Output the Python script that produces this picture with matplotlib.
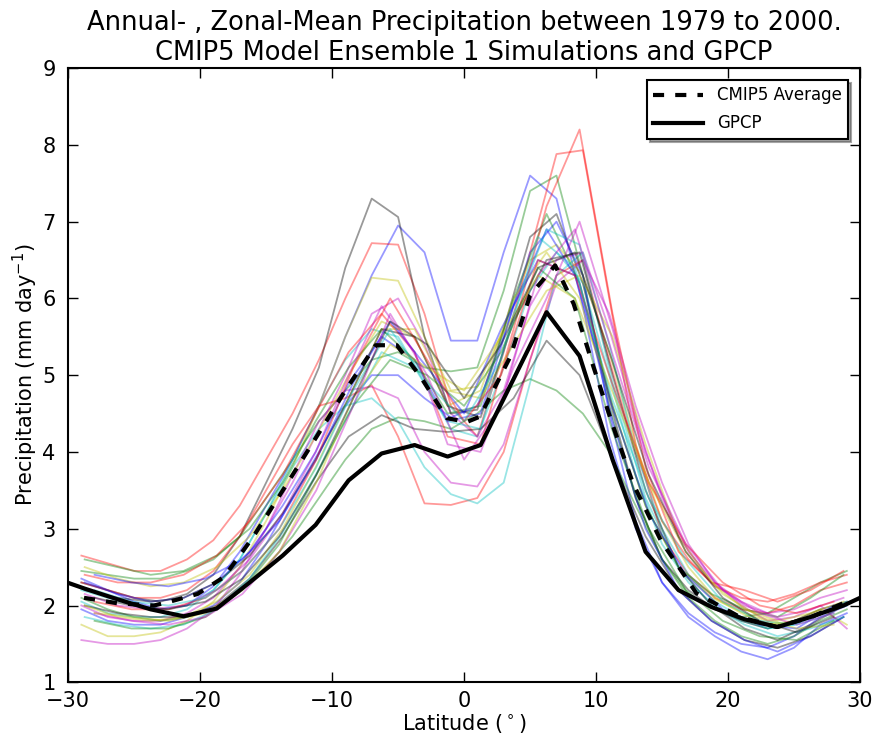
import numpy as np
import matplotlib
matplotlib.use("Agg")
from matplotlib import pyplot as plt

plt.rcParams['lines.scale_dashes'] = False

# latitude grids of the model output
lat2 = np.arange(-29, 30, 2.0)          # 2.0 deg models
lat25 = np.arange(-28.75, 29, 2.5)      # 2.5 deg models
lat28 = [-28.0, -25.2, -22.4, -19.6, -16.8, -14.0, -11.2, -8.4, -5.6, -2.8, 0.0,
         2.8, 5.6, 8.4, 11.2, 14.0, 16.8, 19.6, 22.4, 25.2, 28.0]

m01 = [2.35, 2.2, 2.05, 1.95, 2.0, 2.25, 2.7, 3.3, 3.9, 4.6, 5.5, 6.3, 6.95, 6.6, 5.45, 5.45, 6.6, 7.6, 7.3, 5.9, 4.2, 3.0, 2.3, 1.9, 1.65, 1.5, 1.45, 1.6, 1.85, 2.0]
m02 = [2.45, 2.4, 2.35, 2.35, 2.45, 2.6, 2.9, 3.4, 3.9, 4.4, 4.8, 5.2, 5.3, 5.1, 5.05, 5.1, 6.1, 7.4, 7.6, 6.3, 4.6, 3.4, 2.6, 2.15, 1.95, 1.85, 1.9, 2.1, 2.3, 2.45]
m03 = [2.65, 2.55, 2.45, 2.45, 2.6, 2.85, 3.3, 3.9, 4.5, 5.2, 6.0, 6.72, 6.7, 5.8, 4.6, 4.2, 5.3, 6.6, 7.88, 7.93, 6.0, 4.1, 2.9, 2.4, 2.1, 1.95, 1.9, 2.0, 2.2, 2.3]
m04 = [2.2, 2.1, 2.0, 1.95, 2.0, 2.2, 2.6, 3.2, 3.9, 4.6, 5.2, 5.6, 5.5, 4.9, 4.3, 4.2, 5.1, 6.1, 6.6, 6.2, 5.0, 3.7, 2.8, 2.3, 2.0, 1.8, 1.7, 1.75, 1.9, 2.0]
m05 = [2.0, 1.85, 1.8, 1.8, 1.9, 2.1, 2.5, 3.0, 3.6, 4.3, 5.0, 5.8, 6.0, 5.4, 4.5, 4.2, 4.8, 5.9, 6.5, 6.6, 5.6, 4.4, 3.4, 2.7, 2.3, 2.05, 1.9, 1.95, 2.1, 2.2]
m06 = [1.75, 1.6, 1.6, 1.65, 1.8, 2.05, 2.5, 3.1, 3.8, 4.6, 5.5, 6.27, 6.23, 5.5, 4.8, 4.85, 5.6, 6.5, 6.7, 6.3, 5.3, 4.1, 3.1, 2.5, 2.1, 1.9, 1.75, 1.8, 1.95, 1.75]
m07 = [2.3, 2.2, 2.1, 2.05, 2.15, 2.4, 2.9, 3.6, 4.3, 5.1, 6.4, 7.3, 7.06, 5.5, 4.5, 4.55, 5.6, 6.8, 7.1, 6.2, 4.7, 3.4, 2.6, 2.2, 1.95, 1.8, 1.7, 1.8, 1.95, 2.05]
m08 = [1.95, 1.8, 1.75, 1.75, 1.85, 2.0, 2.3, 2.8, 3.4, 4.0, 4.6, 5.0, 5.0, 4.7, 4.45, 4.6, 5.5, 6.6, 7.0, 6.3, 4.5, 3.1, 2.3, 1.85, 1.6, 1.4, 1.3, 1.45, 1.75, 1.9]
m09 = [2.1, 1.95, 1.85, 1.8, 1.85, 1.95, 2.2, 2.5, 2.9, 3.4, 3.9, 4.3, 4.45, 4.4, 4.3, 4.5, 4.8, 4.95, 4.8, 4.5, 4.0, 3.3, 2.6, 2.1, 1.8, 1.6, 1.5, 1.6, 1.8, 1.95]
m10 = [2.3, 2.2, 2.1, 2.1, 2.2, 2.45, 2.9, 3.5, 4.1, 4.6, 4.7, 4.87, 4.2, 3.33, 3.31, 3.4, 4.0, 5.2, 6.3, 6.5, 5.2, 4.0, 3.1, 2.6, 2.25, 2.1, 2.05, 2.15, 2.3, 2.4]
m11 = [2.05, 1.9, 1.85, 1.85, 1.95, 2.2, 2.6, 3.2, 3.8, 4.3, 4.6, 4.7, 4.4, 3.8, 3.45, 3.33, 3.6, 4.9, 6.3, 6.6, 5.4, 4.0, 3.0, 2.4, 2.05, 1.85, 1.7, 1.75, 1.9, 2.05]
m12 = [1.55, 1.5, 1.5, 1.55, 1.7, 1.95, 2.4, 3.0, 3.7, 4.4, 4.8, 4.85, 4.7, 4.0, 3.6, 3.55, 4.1, 5.2, 6.2, 6.5, 5.8, 4.6, 3.6, 2.8, 2.3, 2.0, 1.8, 1.85, 2.0, 1.7]

m13 = [2.5, 2.35, 2.25, 2.3, 2.5, 2.9, 3.5, 4.2, 5.0, 5.7, 5.5, 4.6, 4.8, 6.0, 6.6, 6.0, 4.6, 3.3, 2.5, 2.1, 1.9, 1.75, 1.85, 2.0]
m14 = [2.0, 1.9, 1.85, 1.85, 2.0, 2.35, 2.9, 3.6, 4.2, 4.48, 4.3, 4.26, 4.3, 4.7, 5.45, 5.0, 3.9, 2.9, 2.2, 1.8, 1.55, 1.45, 1.6, 1.85]
m15 = [2.3, 2.15, 2.05, 2.1, 2.3, 2.7, 3.3, 4.0, 4.9, 5.5, 5.2, 4.4, 4.5, 5.9, 6.9, 6.2, 4.4, 3.0, 2.2, 1.8, 1.55, 1.4, 1.6, 1.85]
m16 = [2.6, 2.5, 2.4, 2.45, 2.65, 3.0, 3.6, 4.4, 5.1, 5.6, 5.2, 4.5, 4.6, 6.0, 7.1, 6.2, 4.6, 3.3, 2.5, 2.15, 1.95, 1.85, 2.1, 2.4]
m17 = [2.4, 2.3, 2.3, 2.4, 2.65, 3.1, 3.7, 4.5, 5.3, 5.8, 5.3, 4.2, 4.1, 5.6, 7.2, 8.2, 5.8, 3.8, 2.7, 2.3, 2.2, 2.05, 2.2, 2.45]
m18 = [1.85, 1.75, 1.7, 1.75, 1.95, 2.35, 2.95, 3.7, 4.5, 5.3, 5.1, 4.4, 4.3, 5.8, 6.9, 6.7, 4.9, 3.4, 2.5, 2.0, 1.75, 1.6, 1.7, 1.85]
m19 = [2.15, 2.0, 1.95, 2.0, 2.2, 2.6, 3.2, 4.0, 5.0, 5.9, 5.3, 4.1, 4.0, 5.1, 6.0, 7.0, 5.6, 4.0, 2.9, 2.3, 2.0, 1.85, 1.95, 2.1]
m20 = [2.0, 1.85, 1.8, 1.85, 2.05, 2.4, 3.0, 3.8, 4.7, 5.6, 5.6, 4.8, 4.7, 5.4, 6.1, 6.3, 5.5, 4.1, 2.9, 2.3, 1.95, 1.8, 1.9, 2.05]
m21 = [2.2, 2.1, 2.05, 2.1, 2.3, 2.65, 3.2, 3.9, 4.7, 5.6, 5.5, 4.6, 4.45, 5.7, 6.5, 6.6, 5.0, 3.5, 2.5, 2.0, 1.7, 1.55, 1.75, 2.0]

m22 = [2.4, 2.3, 2.25, 2.35, 2.6, 3.1, 3.9, 4.9, 5.7, 5.1, 4.5, 5.6, 6.5, 6.3, 4.6, 3.2, 2.4, 1.95, 1.75, 1.7, 2.0]
m23 = [1.8, 1.7, 1.7, 1.85, 2.2, 2.8, 3.7, 4.6, 5.2, 5.0, 4.6, 5.3, 6.4, 6.0, 4.3, 3.0, 2.2, 1.8, 1.6, 1.55, 1.8]
m24 = [2.05, 1.95, 1.95, 2.1, 2.45, 3.0, 3.9, 5.1, 6.0, 5.2, 4.4, 5.0, 6.5, 6.3, 4.9, 3.6, 2.8, 2.3, 2.0, 1.9, 2.05]
m25 = [2.2, 2.05, 2.0, 2.1, 2.45, 3.0, 3.8, 4.8, 5.6, 4.9, 4.4, 5.2, 6.8, 6.4, 4.7, 3.4, 2.6, 2.05, 1.8, 1.75, 1.9]
m26 = [1.9, 1.8, 1.75, 1.85, 2.15, 2.7, 3.5, 4.6, 5.8, 5.0, 3.9, 4.6, 6.3, 6.9, 5.3, 3.8, 2.8, 2.2, 1.9, 1.75, 1.9]
m27 = [1.9, 1.85, 1.8, 1.9, 2.2, 2.7, 3.6, 4.7, 5.4, 5.1, 4.8, 5.5, 6.3, 6.0, 4.8, 3.6, 2.7, 2.15, 1.85, 1.7, 1.75]
m28 = [2.1, 2.0, 1.95, 2.05, 2.35, 2.9, 3.7, 4.7, 5.7, 5.4, 4.7, 5.4, 6.4, 6.6, 5.2, 3.7, 2.7, 2.1, 1.8, 1.65, 1.85]

models = [(lat2, m01), (lat2, m02), (lat2, m03), (lat2, m04), (lat2, m05), (lat2, m06), (lat2, m07),
          (lat2, m08), (lat2, m09), (lat2, m10), (lat2, m11), (lat2, m12),
          (lat25, m13), (lat25, m14), (lat25, m15), (lat25, m16), (lat25, m17), (lat25, m18),
          (lat25, m19), (lat25, m20), (lat25, m21),
          (lat28, m22), (lat28, m23), (lat28, m24), (lat28, m25), (lat28, m26), (lat28, m27), (lat28, m28)]
model_colors = ['b', 'g', 'r', 'c', 'm', 'y', 'k',
                'b', 'g', 'r', 'c', 'm',
                'y', 'k', 'b', 'g', 'r', 'c', 'm', 'y', 'k',
                'b', 'g', 'r', 'c', 'm', 'y', 'k']

# ensemble mean
avg_lat = [-28.8, -26.3, -23.5, -22.3, -20.2, -18.2, -16.0, -13.4, -10.7, -9.0, -6.7, -5.1, -3.3,
           -1.3, 0.2, 1.2, 3.5, 5.0, 6.9, 8.3, 9.8, 11.3, 12.8, 14.9, 17.6, 20.9, 23.7, 26.3, 29.0]
avg_pr = [2.1, 2.03, 2.0, 2.05, 2.15, 2.37, 2.89, 3.59, 4.33, 4.8, 5.39, 5.39, 4.98,
          4.44, 4.39, 4.46, 5.24, 6.04, 6.43, 5.93, 5.11, 4.33, 3.59, 2.85, 2.16, 1.85, 1.72, 1.85, 2.05]

# GPCP observations (2.5 deg)
gpcp_lat = np.arange(-31.25, 32, 2.5)
gpcp_pr = [2.37, 2.22, 2.08, 1.95, 1.86, 1.96, 2.3, 2.65, 3.05, 3.63, 3.98, 4.09, 3.94, 4.09,
           4.95, 5.82, 5.25, 3.9, 2.7, 2.2, 1.98, 1.82, 1.72, 1.85, 2.0, 2.2]

fig = plt.figure(figsize=(8.74, 7.4), dpi=100)
ax = fig.add_axes([0.078, 0.078, 0.906, 0.83])

for (la, pr), col in zip(models, model_colors):
    ax.plot(la, pr, color=col, alpha=0.4, lw=1.3)

ax.plot(avg_lat, avg_pr, color='k', ls='--', dashes=(8, 8), lw=3, label='CMIP5 Average')
ax.plot(gpcp_lat, gpcp_pr, 'k-', lw=3, label='GPCP')

ax.set_xlim(-30, 30)
ax.set_ylim(1, 9)
ax.tick_params(direction='in', top=True, right=True, length=7, width=1, labelsize=15)
ax.tick_params(axis='x', pad=6)
ax.tick_params(axis='y', pad=9)
for s in ax.spines.values():
    s.set_linewidth(1.5)
ax.set_xlabel(r'Latitude ($^\circ$)', fontsize=15, labelpad=1)
ax.set_ylabel(r'Precipitation (mm day$^{-1}$)', fontsize=15, labelpad=2)
ax.set_title('Annual- , Zonal-Mean Precipitation between 1979 to 2000.\nCMIP5 Model Ensemble 1 Simulations and GPCP',
             fontsize=18.5)
leg = ax.legend(loc='upper right', shadow=True, fancybox=False, fontsize=12, handlelength=3,
                labelspacing=0.6, borderaxespad=0.7)
leg.get_frame().set_edgecolor('k')
leg.get_frame().set_linewidth(1.5)

fig.savefig('out.png', dpi=100)
